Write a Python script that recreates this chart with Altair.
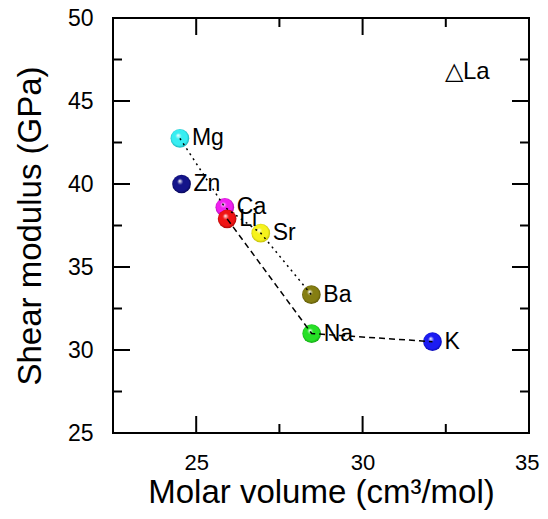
import altair as alt
import pandas as pd

# ---- data ----
elements = ["Mg", "Zn", "Ca", "Li", "Sr", "Ba", "Na", "K"]
molar_volume = [24.51, 24.56, 25.86, 25.93, 26.94, 28.46, 28.47, 32.10]
shear_modulus = [42.75, 40.0, 38.6, 37.9, 37.04, 33.33, 30.99, 30.5]
base_colors = ["#38eef2", "#14148a", "#f020f0", "#f01414", "#f6f21c", "#857e12", "#26e026", "#1c1cf2"]
dark_colors = ["#0a9aa0", "#000040", "#900090", "#900000", "#a8a400", "#4a4500", "#0a900a", "#00009a"]
dotted_path = ["Mg", "Ca", "Sr", "Ba"]
dashed_path = ["Li", "Na", "K"]

x_major = [25, 30]
x_minor = [27.5, 32.5]
y_major = [30, 35, 40, 45]
y_minor = [27.5, 32.5, 37.5, 42.5, 47.5]

annotation = ["\u25B3La"]

W, H = 416, 415
FONT = "Liberation Sans"
MAJ, MIN = 17, 9

df = pd.DataFrame({"element": elements, "v": molar_volume, "g": shear_modulus})

xs = alt.Scale(domain=[22.5, 35], nice=False, zero=False)
ys = alt.Scale(domain=[25, 50], nice=False, zero=False)

x_enc = alt.X("v:Q", scale=xs,
              axis=alt.Axis(values=[25, 30, 35], title="Molar volume (cm\u00b3/mol)",
                            labelPadding=19, titlePadding=3, labelFlush=True,
                            labelFlushOffset=10,
                            labelOverlap=False, labelFontSize=22))
y_enc = alt.Y("g:Q", scale=ys,
              axis=alt.Axis(values=[25, 30, 35, 40, 45, 50], title="Shear modulus (GPa)",
                            labelPadding=20, titlePadding=20, labelOverlap=False))

base = alt.Chart(df)

# points with a 3D-ish radial gradient
point_layers = []
for name, c, d in zip(elements, base_colors, dark_colors):
    grad = {
        "gradient": "radial",
        "x1": 0.4, "y1": 0.33, "r1": 0.0,
        "x2": 0.5, "y2": 0.5, "r2": 0.55,
        "stops": [
            {"offset": 0.0, "color": "#ffffff"},
            {"offset": 0.3, "color": c},
            {"offset": 0.75, "color": c},
            {"offset": 1.0, "color": d},
        ],
    }
    point_layers.append(
        base.transform_filter(alt.datum.element == name)
        .mark_point(shape="circle", filled=True, size=350, fill=grad, opacity=1, strokeWidth=0)
        .encode(x=x_enc, y=y_enc)
    )

labels = base.mark_text(align="left", baseline="middle", dx=12, font=FONT,
                        fontSize=23, color="black").encode(
    x=alt.X("v:Q", scale=xs), y=alt.Y("g:Q", scale=ys), text="element:N")

dotted = base.transform_filter(
    alt.FieldOneOfPredicate(field="element", oneOf=dotted_path)
).mark_line(color="black", strokeWidth=1.5, strokeDash=[2, 4]).encode(
    x=alt.X("v:Q", scale=xs), y=alt.Y("g:Q", scale=ys))

dashed = base.transform_filter(
    alt.FieldOneOfPredicate(field="element", oneOf=dashed_path)
).mark_line(color="black", strokeWidth=1.5, strokeDash=[6, 4]).encode(
    x=alt.X("v:Q", scale=xs), y=alt.Y("g:Q", scale=ys))

# inward ticks on all four sides
def xticks(vals, length):
    d = pd.DataFrame({"t": vals})
    bot = alt.Chart(d).mark_rule(color="black", strokeWidth=2).encode(
        x=alt.X("t:Q", scale=xs), y=alt.value(H), y2=alt.value(H - length))
    top = alt.Chart(d).mark_rule(color="black", strokeWidth=2).encode(
        x=alt.X("t:Q", scale=xs), y=alt.value(0), y2=alt.value(length))
    return [bot, top]

def yticks(vals, length):
    d = pd.DataFrame({"t": vals})
    left = alt.Chart(d).mark_rule(color="black", strokeWidth=2).encode(
        y=alt.Y("t:Q", scale=ys), x=alt.value(0), x2=alt.value(length))
    right = alt.Chart(d).mark_rule(color="black", strokeWidth=2).encode(
        y=alt.Y("t:Q", scale=ys), x=alt.value(W), x2=alt.value(W - length))
    return [left, right]

tick_layers = xticks(x_major, MAJ) + xticks(x_minor, MIN) + yticks(y_major, MAJ) + yticks(y_minor, MIN)

note = alt.Chart(pd.DataFrame({"t": annotation})).mark_text(
    align="left", baseline="middle", font=FONT, fontSize=24, color="black"
).encode(x=alt.value(332), y=alt.value(54), text="t:N")

chart = alt.layer(*point_layers, labels, dotted, dashed, *tick_layers, note).properties(
    width=W, height=H,
    autosize=alt.AutoSizeParams(type="none"),
    padding={"left": 105, "top": 10, "right": 11, "bottom": 78},
).configure_view(stroke="black", strokeWidth=2).configure_axis(
    domain=False, ticks=False, tickSize=0, grid=False,
    labelFont=FONT, labelFontSize=23, labelColor="black",
    titleFont=FONT, titleFontSize=33, titleFontWeight="normal", titleColor="black",
)

chart.save("out.html", embed_options={"renderer": "svg", "actions": False})
